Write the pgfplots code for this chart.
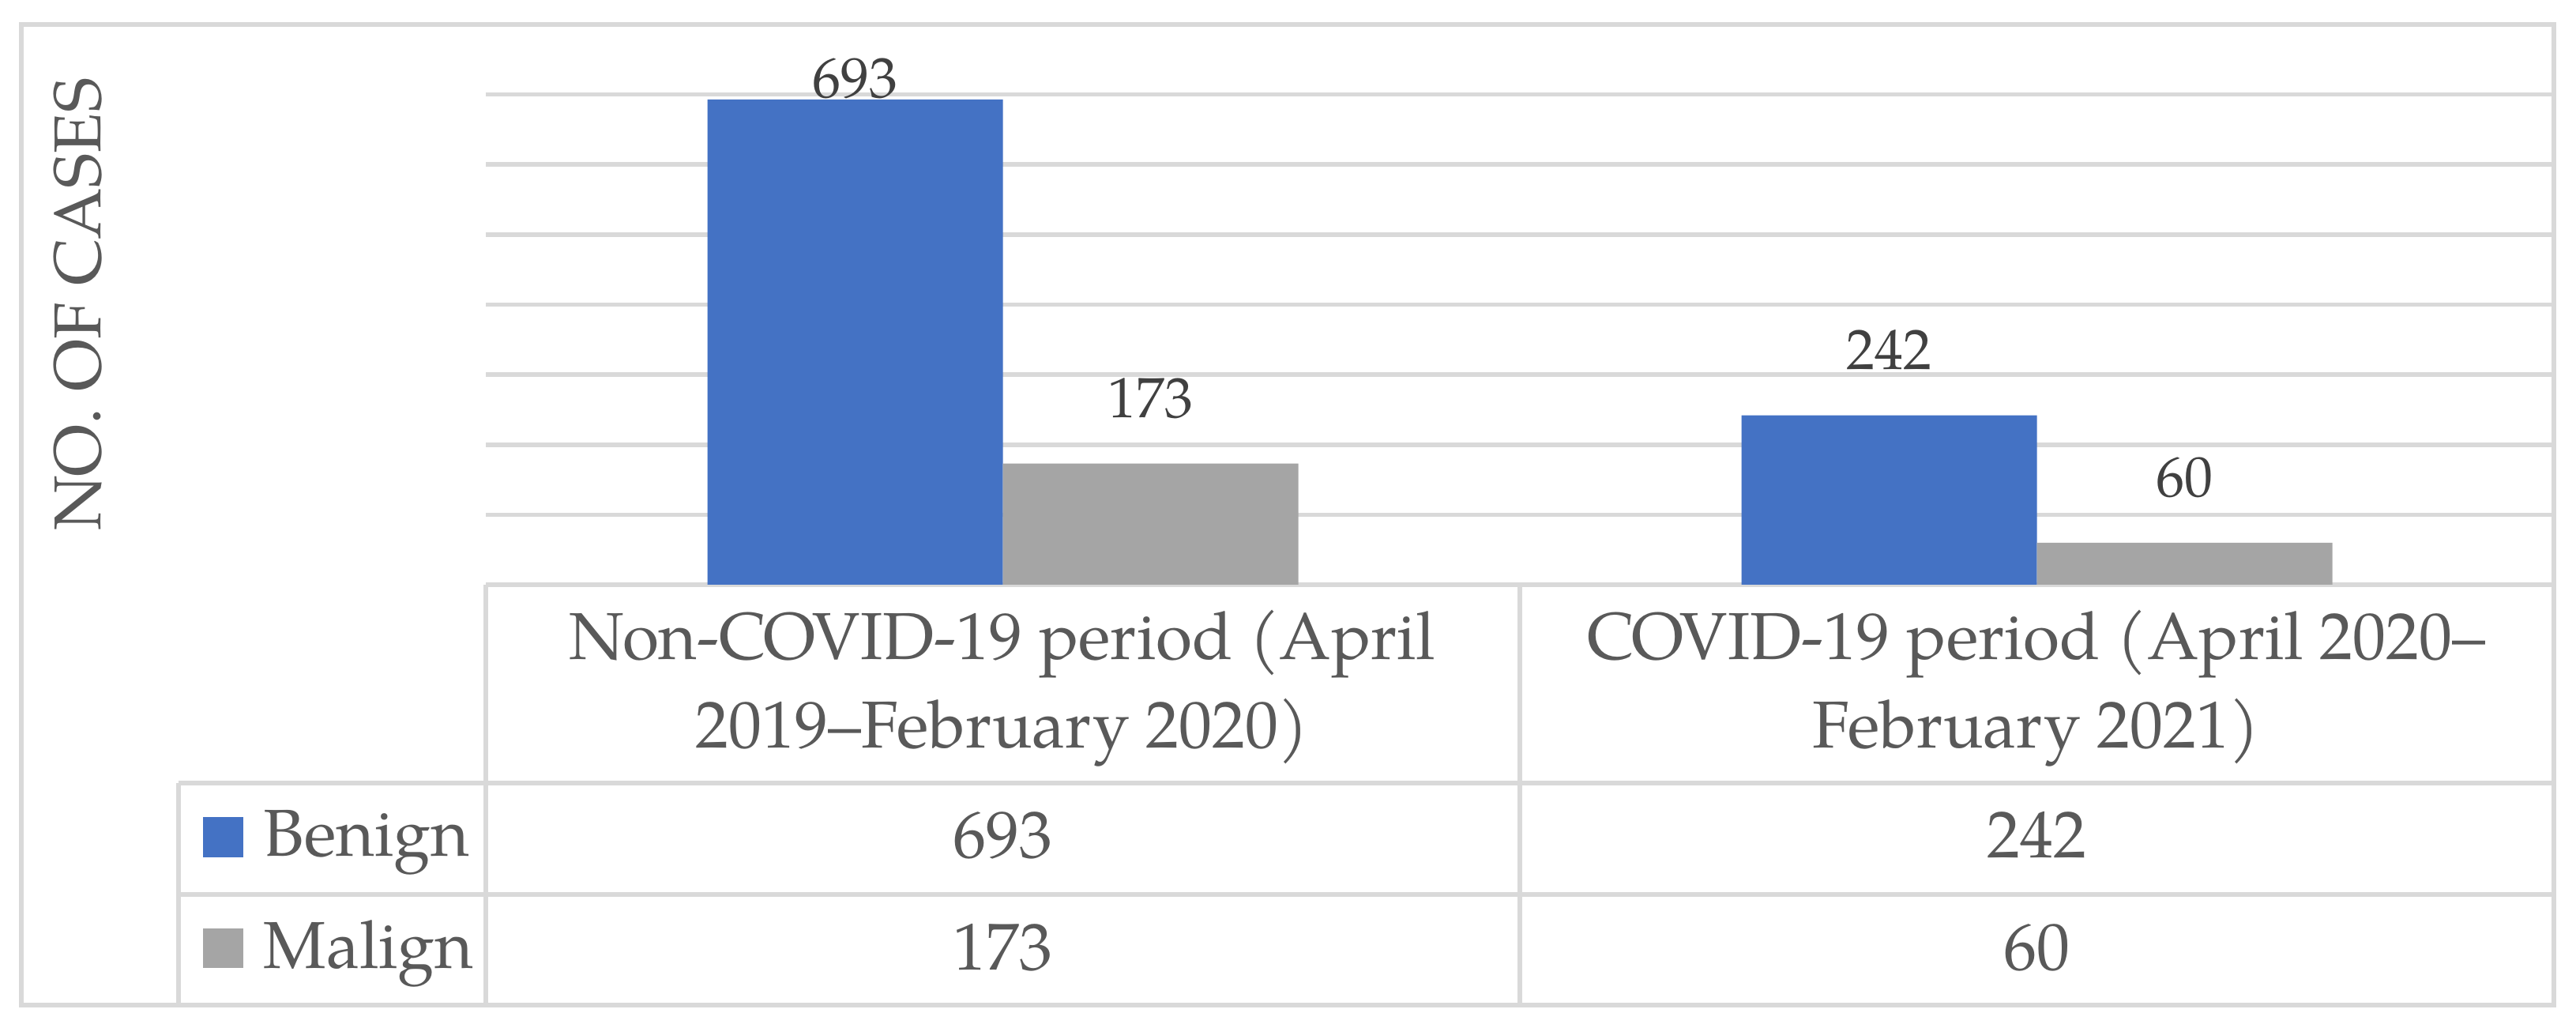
\documentclass[border=0pt]{standalone}
\usepackage{pgfplots}
\pgfplotsset{compat=1.18}
\usepackage{fontspec}
\setmainfont{TeX Gyre Pagella}
\definecolor{cblue}{HTML}{4472C4}
\definecolor{cgray}{HTML}{A5A5A5}
\definecolor{cline}{HTML}{D9D9D9}
\definecolor{ctext}{HTML}{595959}
\definecolor{clab}{HTML}{404040}
\begin{document}
\begin{tikzpicture}
\useasboundingbox (0,0) rectangle (815.25pt,-325.25pt);
\begin{axis}[
  at={(153.75pt,-185pt)}, anchor=south west,
  scale only axis, width=654.5pt, height=177.25pt,
  xmin=-0.5, xmax=1.5, ymin=0, ymax=800,
  ybar=0pt, bar width=93.5pt,
  xtick=\empty, ytick={0,100,...,800}, yticklabels={}, major tick length=0pt,
  ymajorgrids, grid style={line width=1.4pt, cline},
  axis line style={draw=none},
  clip=false,
  /pgf/number format/assume math mode=true,
  nodes near coords,
  visualization depends on={y \as \rawy},
  nodes near coords style={font=\fontsize{18}{20}\selectfont, text=clab, anchor=base, inner sep=0pt,
    yshift={(\rawy>600)*0.5pt+(\rawy<=600)*14.5pt}},
]
\addplot[fill=cblue, draw=none] coordinates {(0,693) (1,242)};
\addplot[fill=cgray, draw=none] coordinates {(0,173) (1,60)};
\end{axis}
\begin{scope}[x=0.25pt, y=-0.25pt, line width=1.4pt, draw=cline]
\draw (27,31) rectangle (3233,1272);
\draw (226,991) -- (3233,991);
\draw (226,1132) -- (3233,1132);
\draw (226,991) -- (226,1272);
\draw (615,740) -- (615,1272);
\draw (1924,740) -- (1924,1272);
\end{scope}
\begin{scope}[x=0.25pt, y=-0.25pt, every node/.style={text=ctext, font=\fontsize{21}{28}\selectfont, inner sep=0pt}]
\node[anchor=base] at (1269,835) {Non-COVID-19 period (April};
\node[anchor=base] at (1269,947) {2019--February 2020)};
\node[anchor=base] at (2578,835) {COVID-19 period (April 2020--};
\node[anchor=base] at (2578,947) {February 2021)};
\fill[cblue] (257,1034) rectangle (308,1085);
\fill[cgray] (257,1175) rectangle (308,1225);
\node[anchor=base west] at (333,1084) {Benign};
\node[anchor=base west] at (333,1225) {Malign};
\node[anchor=base] at (1269,1086) {693};
\node[anchor=base] at (2578,1086) {242};
\node[anchor=base] at (1269,1227) {173};
\node[anchor=base] at (2578,1227) {60};
\node[rotate=90] at (99,385) {NO. OF CASES};
\end{scope}
\end{tikzpicture}
\end{document}
